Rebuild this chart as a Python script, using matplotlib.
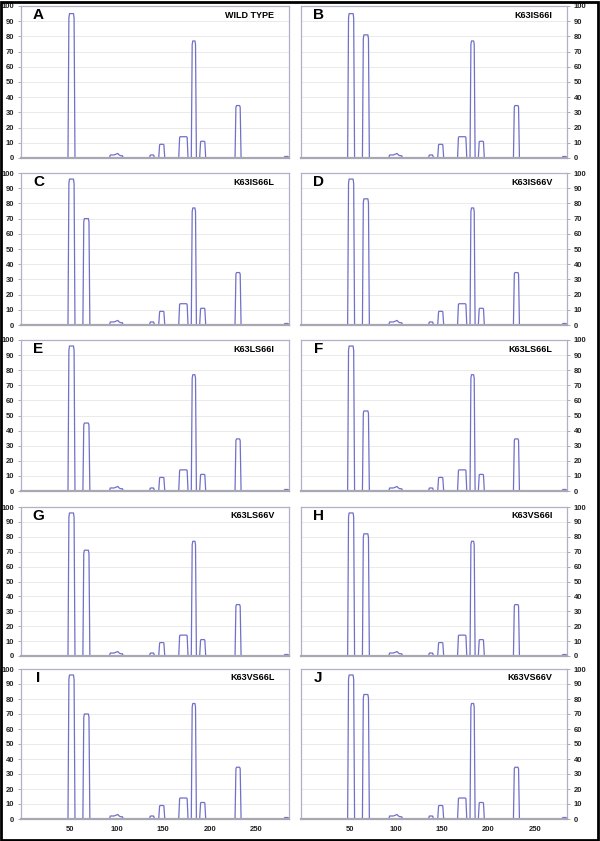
import numpy as np
import matplotlib
matplotlib.use('Agg')
from matplotlib import pyplot as plt
from matplotlib.patches import Rectangle

plt.rcParams['font.family'] = ['Liberation Sans', 'DejaVu Sans']
plt.rcParams['font.weight'] = 'bold'

# panel labels and mutant names
letters = ['A', 'B', 'C', 'D', 'E', 'F', 'G', 'H', 'I', 'J']
names = ['WILD TYPE', 'K63IS66I', 'K63IS66L', 'K63IS66V', 'K63LS66I',
         'K63LS66L', 'K63LS66V', 'K63VS66I', 'K63VS66L', 'K63VS66V']

# peak heights (% of max) that change between panels
first_peak = [95, 95, 96, 96, 96, 96, 96, 96, 96, 96]
second_peak = [0, 81, 70, 83, 45, 53, 71, 82, 70, 83]

# peaks shared by all panels: start, end, height
peak_start = [135, 145, 166.5, 180, 189, 227, 279.5]
peak_end = [140.5, 151.5, 176.5, 185.5, 195.5, 233.5, 285]
peak_height = [2, 9, 14, 77, 11, 34.5, 1]

# small double bump around 100
bump_x = [92, 93, 97, 99, 101, 102.5, 104, 106, 107]
bump_y = [0, 2, 2, 2.5, 3, 2, 1.5, 1.5, 0]

x_ticks = [50, 100, 150, 200, 250]
y_ticks = list(range(0, 101, 10))

line_col = '#7070c8'
frame_col = '#b0b0c8'


def peak(s, e, h, rise=1.6):
    xs = [s, s + rise * 0.6, s + rise, e - rise, e - rise * 0.6, e]
    ys = [0, h * 0.97, h, h, h * 0.97, 0]
    return xs, ys


def trace(i):
    segs = [peak(47.5, 55, first_peak[i])]
    if second_peak[i] > 0:
        segs.append(peak(63.5, 71, second_peak[i]))
    segs.append((bump_x, bump_y))
    for s, e, h in zip(peak_start, peak_end, peak_height):
        segs.append(peak(s, e, h))
    xs, ys = [-3], [0]
    for sx, sy in segs:
        xs += list(sx)
        ys += list(sy)
    return xs, ys


W, H = 600, 841
fig = plt.figure(figsize=(6, 8.41), dpi=100)
fig.patches.append(Rectangle((0.002, 0.001), 0.995, 0.997,
                             transform=fig.transFigure, fill=False,
                             edgecolor='black', linewidth=2))

col_x = [(21, 289), (301, 567)]
row_y = [(6, 158), (173, 325), (340, 491), (507, 656), (669, 819)]

for i in range(10):
    r, c = divmod(i, 2)
    x0, x1 = col_x[c]
    y0, y1 = row_y[r]
    ax = fig.add_axes([x0 / W, 1 - y1 / H, (x1 - x0) / W, (y1 - y0) / H])
    xs, ys = trace(i)
    ax.plot(xs, ys, color=line_col, linewidth=0.9)
    ax.set_xlim(-3, 285)
    ax.set_ylim(0, 100)
    ax.set_yticks(y_ticks)
    ax.grid(axis='y', color='#e6e6e6', linewidth=0.6)
    ax.set_axisbelow(True)
    for side in ['top', 'left', 'right']:
        ax.spines[side].set_color(frame_col)
        ax.spines[side].set_linewidth(0.9)
    ax.spines['bottom'].set_color('#a8a8b4')
    ax.spines['bottom'].set_linewidth(1.6)
    ax.tick_params(axis='y', length=2, width=0.6, color='#a0a0a0',
                   labelsize=5.5, labelcolor='#222222', pad=3)
    if c == 1:
        ax.yaxis.tick_right()
    if r == 4:
        ax.set_xticks(x_ticks)
        ax.tick_params(axis='x', length=0, labelsize=5.5,
                       labelcolor='#222222', pad=5)
    else:
        ax.set_xticks([])
    ax.text(0.065, 0.94, letters[i], transform=ax.transAxes, fontsize=11,
            fontweight='bold', ha='center', va='center')
    ax.text(0.945, 0.94, names[i], transform=ax.transAxes, fontsize=6.5,
            fontweight='bold', ha='right', va='center')

fig.savefig('out.png', dpi=100)
